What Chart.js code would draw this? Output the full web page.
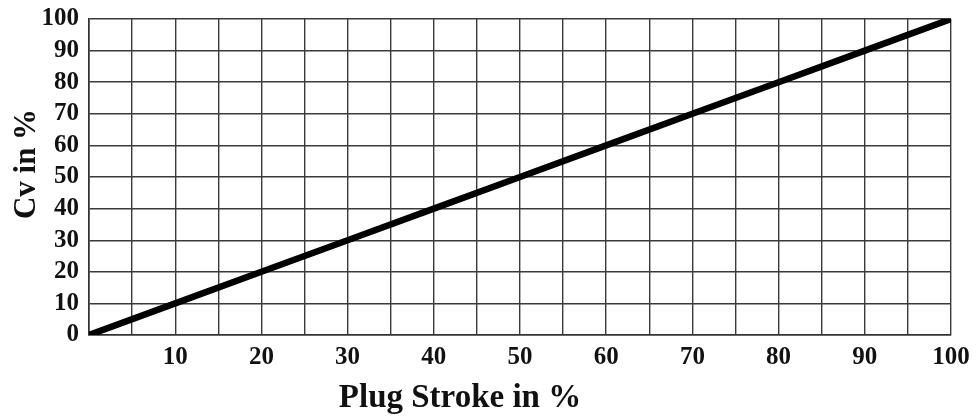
<!DOCTYPE html>
<html><head><meta charset="utf-8">
<script src="https://cdn.jsdelivr.net/npm/chart.js@4.4.0/dist/chart.umd.min.js"></script>
<style>html,body{margin:0;padding:0;background:#fff;}#wrap{width:976px;height:417px;}</style>
</head><body><div id="wrap"><canvas id="c" width="976" height="417"></canvas></div>
<script>
const strokeX = [0, 10, 20, 30, 40, 50, 60, 70, 80, 90, 100];
const cvY = [0, 10, 20, 30, 40, 50, 60, 70, 80, 90, 100];
const xTickLabels = [10, 20, 30, 40, 50, 60, 70, 80, 90, 100];
const yTickLabels = [0, 10, 20, 30, 40, 50, 60, 70, 80, 90, 100];
const xTitle = 'Plug Stroke in %';
const yTitle = 'Cv in %';
const FONT = '"Liberation Serif", "DejaVu Serif", serif';

const titlePlugin = {
  id: 'axisTitles',
  afterDraw(chart) {
    const ctx = chart.ctx;
    ctx.save();
    ctx.fillStyle = '#111';
    ctx.font = 'bold 33px ' + FONT;
    ctx.textAlign = 'center';
    ctx.textBaseline = 'alphabetic';
    ctx.fillText(xTitle, 460, 407);
    ctx.translate(35, 164);
    ctx.rotate(-Math.PI / 2);
    ctx.font = 'bold 31px ' + FONT;
    ctx.fillText(yTitle, 0, 0);
    ctx.restore();
  }
};

new Chart(document.getElementById('c'), {
  type: 'line',
  data: { datasets: [{ data: strokeX.map((x,i)=>({x:x,y:cvY[i]})), borderColor:'#000', borderWidth:6.5, pointRadius:0, tension:0, fill:false, borderCapStyle:'butt' }] },
  plugins: [titlePlugin],
  options: {
    responsive:false, animation:false, devicePixelRatio:1,
    layout:{padding:{left:0,right:25,top:19,bottom:0}},
    plugins:{legend:{display:false}, tooltip:{enabled:false}},
    scales:{
      x:{type:'linear', min:0, max:100,
        ticks:{stepSize:5, autoSkip:false, maxRotation:0, padding:8, color:'#111',
          font:{family:FONT, size:25, weight:'bold'},
          callback:(v)=> xTickLabels.includes(v) ? String(v) : ''},
        grid:{color:'#3a3a3a', lineWidth:1.4, drawTicks:false},
        border:{color:'#333', width:1.6},
        afterFit:(s)=>{s.height=82; s.paddingLeft=0; s.paddingRight=0;}
      },
      y:{min:0, max:100,
        ticks:{stepSize:10, autoSkip:false, padding:10, color:'#111',
          font:{family:FONT, size:25, weight:'bold'},
          callback:(v)=> yTickLabels.includes(v) ? String(v) : ''},
        grid:{color:'#3a3a3a', lineWidth:1.4, drawTicks:false},
        border:{color:'#333', width:1.6},
        afterFit:(s)=>{s.width=89; s.paddingTop=0; s.paddingBottom=0;}
      }
    }
  }
});
</script></body></html>
